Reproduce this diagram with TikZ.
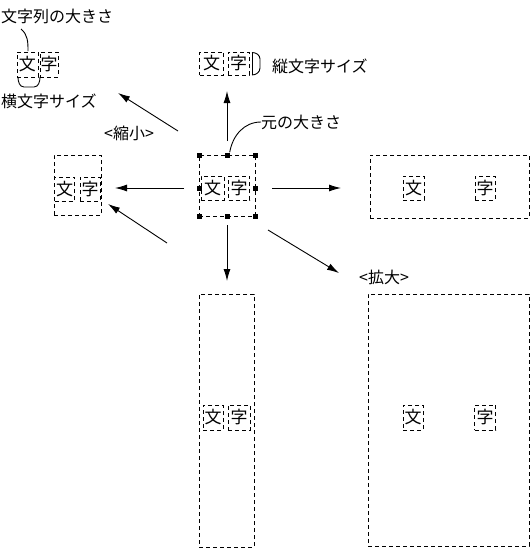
\documentclass[tikz,border=0pt]{standalone}
\usepackage{fontspec}
\newfontfamily\jp{Noto Sans CJK JP}
\usetikzlibrary{arrows.meta}
\begin{document}
\begin{tikzpicture}[x=1pt,y=-1pt,
  dsh/.style={draw, dash pattern=on 4pt off 3pt, line width=0.9pt},
  outerbox/.style={dsh, inner sep=0pt},
  cbox/.style={dsh, inner sep=0pt, minimum width=21pt, minimum height=24pt, font=\jp\fontsize{17}{17}\selectfont},
  lbl/.style={font=\jp\fontsize{16}{16}\selectfont, inner sep=0pt},
  arr/.style={line width=0.9pt, -{Latex[length=12pt,width=7pt]}},
  handle/.style={fill=black, minimum size=5pt, inner sep=0pt},
  thinln/.style={line width=0.9pt}]
\useasboundingbox (0,0) rectangle (531,549);

% centre (original size)
\node[outerbox, minimum width=56pt, minimum height=61pt] (C) at (227,185.5) {};
\node[cbox, minimum width=23pt] (C1) at (212.5,188) {文};
\node[cbox] (C2) at (239,188) {字};
\foreach \n/\p in {h1/{(199,155)},h2/{(227,155)},h3/{(255,155)},h4/{(199,188)},h5/{(255,188)},h6/{(199,216)},h7/{(227,216)},h8/{(255,216)}}
  \node[handle] (\n) at \p {};

% left (horizontal shrink)
\node[outerbox, minimum width=47pt, minimum height=60pt] (L) at (77.5,185) {};
\node[cbox, minimum width=20pt] (L1) at (64.5,189) {文};
\node[cbox, minimum width=20pt] (L2) at (90,189) {字};

% top (vertical shrink)
\node[cbox, minimum width=24pt, minimum height=23pt] (T1) at (211.5,63.5) {文};
\node[cbox, minimum height=23pt] (T2) at (238.5,63.5) {字};
\coordinate (Ta) at (252,52.5);
\coordinate (Tb) at (252,75);
\draw[thinln] (Ta) -- (Tb);
\draw[thinln] (Ta) to[out=0,in=90] (260,59) -- (260,68) to[out=-90,in=0] (Tb);
\node[lbl, anchor=west] (Tl) at (272,66) {縦文字サイズ};

% top-left (character string size)
\node[cbox, minimum width=21pt, minimum height=25pt] (S1) at (27.5,64.5) {文};
\node[cbox, minimum width=18pt, minimum height=25pt] (S2) at (49,64.5) {字};
\node[lbl, anchor=west] (Sl) at (1,16) {文字列の大きさ};
\node[lbl, anchor=west] (Hl) at (1,101) {横文字サイズ};
\coordinate (Sa) at (21,29);
\coordinate (Sb) at (28,51);
\draw[thinln] (Sa) to[out=-40,in=90] (Sb);
\coordinate (Ba) at (18,77);
\coordinate (Bb) at (40,77);
\draw[thinln] (Ba) to[out=-90,in=180] (24,87) -- (34,87) to[out=0,in=-90] (Bb);

% right (horizontal enlarge)
\node[outerbox, minimum width=159pt, minimum height=63pt] (R) at (449.5,186.5) {};
\node[cbox] (R1) at (413.5,188) {文};
\node[cbox, minimum width=20pt] (R2) at (485,188) {字};

% bottom (vertical enlarge)
\node[outerbox, minimum width=55pt, minimum height=253pt] (B) at (226.5,420.5) {};
\node[cbox, minimum width=20pt, minimum height=25pt] (B1) at (213,417.5) {文};
\node[cbox, minimum width=22pt, minimum height=25pt] (B2) at (239,417.5) {字};

% big (enlarge)
\node[outerbox, minimum width=161pt, minimum height=252pt] (G) at (448.5,420) {};
\node[cbox, minimum width=20pt, minimum height=25pt] (G1) at (413,417.5) {文};
\node[cbox, minimum width=21pt, minimum height=25pt] (G2) at (485,417.5) {字};

% labels
\node[lbl] (shrink) at (129,133) {<縮小>};
\node[lbl] (enlarge) at (384,277) {<拡大>};
\node[lbl, anchor=west] (orig) at (261,122) {元の大きさ};
\draw[thinln] (h2.north east) to[out=80,in=180] (orig.west);

% arrows
\coordinate (aU0) at (227,141); \coordinate (aU1) at (227,91);
\coordinate (aL0) at (184,188); \coordinate (aL1) at (115,188);
\coordinate (aR0) at (272,188); \coordinate (aR1) at (341,188);
\coordinate (aD0) at (227,225); \coordinate (aD1) at (227,281);
\coordinate (aUL0) at (178,131); \coordinate (aUL1) at (118,93);
\coordinate (aDL0) at (167,243); \coordinate (aDL1) at (108,204);
\coordinate (aDR0) at (268,230); \coordinate (aDR1) at (339,273);
\foreach \a in {aU,aL,aR,aD,aUL,aDL,aDR}
  \draw[arr] (\a0) -- (\a1);
\end{tikzpicture}
\end{document}
